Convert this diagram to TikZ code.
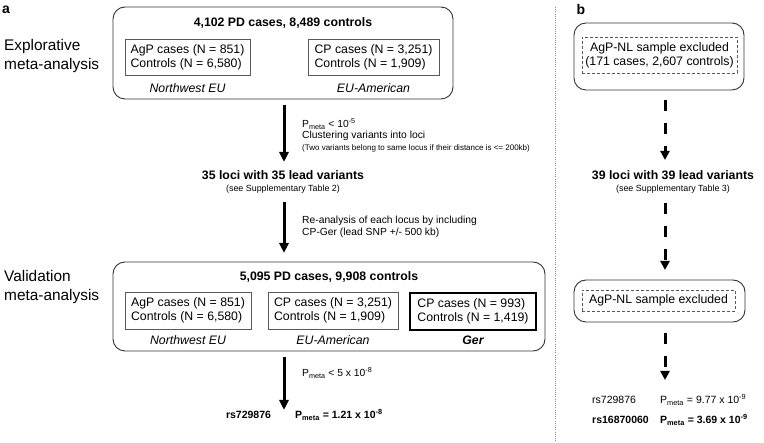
\documentclass[tikz,border=0pt]{standalone}
\usepackage{fontspec}
\setmainfont{Liberation Sans}
\usetikzlibrary{arrows.meta}
\newcommand{\myfs}[2]{\fontsize{#1}{#2}\selectfont}
\begin{document}
\begin{tikzpicture}[x=1pt,y=-1pt,
  txt/.style={inner sep=0pt, font={\myfs{12.3}{14.3}}},
  btxt/.style={inner sep=0pt, font={\myfs{12.3}{14.3}\bfseries}},
  lbl/.style={inner sep=0pt, anchor=west, font={\myfs{10.3}{12}}},
  small/.style={inner sep=0pt, anchor=west, font={\myfs{8.0}{9}}},
  supp/.style={inner sep=0pt, font={\myfs{8.9}{10}}},
  res/.style={inner sep=0pt, font={\myfs{10.5}{12}}},
  side/.style={inner sep=0pt, anchor=west, align=left, font={\myfs{15.4}{18.5}}},
  panel/.style={inner sep=0pt, font={\myfs{14}{16}\bfseries}},
  bigbox/.style={draw=black!80, line width=0.9pt, rounded corners=12pt},
  inbox/.style={draw=black!65, line width=0.8pt, inner sep=0pt, align=left, font={\myfs{12.3}{14.3}}},
  gerbox/.style={draw=black, line width=2.6pt, inner sep=0pt, align=left, font={\myfs{12.3}{14.3}}},
  dbox/.style={draw=black!65, line width=0.7pt, dash pattern=on 3pt off 2pt, inner sep=0pt, align=center, font={\myfs{12.3}{14.3}}},
  arr/.style={line width=3pt, -{Triangle[length=10pt,width=9pt]}},
  darr/.style={line width=3pt, dash pattern=on 11pt off 12pt, -{Triangle[length=9pt,width=9pt]}},
  sepline/.style={draw=black!45, line width=0.8pt, dash pattern=on 1pt off 1.2pt}
]
\fill[white] (0,0) rectangle (764,443);
\useasboundingbox (0,0) rectangle (764,443);

% panel labels
\node[panel] (pa) at (6,10) {a};
\node[panel] (pb) at (581,10) {b};

% side titles
\node[side] (expl) at (4,56) {Explorative\\meta-analysis};
\node[side] (vali) at (4,287) {Validation\\meta-analysis};

% ---------- panel a ----------
\node[bigbox, minimum width=340pt, minimum height=92pt] (box1) at (283,53) {};
\node[btxt] (t1) at (283,23) {4,102 PD cases, 8,489 controls};
\node[inbox, minimum width=125pt, minimum height=36pt] (agp1) at (187.5,57) {AgP cases (N = 851)\\Controls (N = 6,580)};
\node[inbox, minimum width=131pt, minimum height=36pt] (cp1) at (373.5,57) {CP cases (N = 3,251)\\Controls (N = 1,909)};
\node[txt, font={\myfs{12.3}{14.3}\itshape}] (nw1) at (187.5,88) {Northwest EU};
\node[txt, font={\myfs{12.3}{14.3}\itshape}] (eu1) at (373.5,88) {EU-American};

\coordinate (a1s) at (284,105);
\coordinate (a1e) at (284,162);
\draw[arr] (a1s) -- (a1e);
\node[lbl] (l1) at (302,124) {P\textsubscript{meta} < 10\textsuperscript{-5}};
\node[lbl] (l2) at (302,136) {Clustering variants into loci};
\node[small] (l3) at (302,148) {(Two variants belong to same locus if their distance is <= 200kb)};

\node[btxt] (loci1) at (283,175) {35 loci with 35 lead variants};
\node[supp] (sup1) at (283,189) {(see Supplementary Table 2)};

\coordinate (a2s) at (284,202);
\coordinate (a2e) at (284,253);
\draw[arr] (a2s) -- (a2e);
\node[lbl] (l4) at (302,221) {Re-analysis of each locus by including};
\node[lbl] (l5) at (302,233) {CP-Ger (lead SNP +/- 500 kb)};

\node[bigbox, minimum width=432pt, minimum height=89pt] (box2) at (329,306.5) {};
\node[btxt] (t2) at (329,277) {5,095 PD cases, 9,908 controls};
\node[inbox, minimum width=126pt, minimum height=37pt] (agp2) at (188,310.5) {AgP cases (N = 851)\\Controls (N = 6,580)};
\node[inbox, minimum width=130pt, minimum height=37pt] (cp2) at (333,310.5) {CP cases (N = 3,251)\\Controls (N = 1,909)};
\node[gerbox, minimum width=126pt, minimum height=37pt] (ger) at (473,311.5) {CP cases (N = 993)\\Controls (N = 1,419)};
\node[txt, font={\myfs{12.3}{14.3}\itshape}] (nw2) at (188,340) {Northwest EU};
\node[txt, font={\myfs{12.3}{14.3}\itshape}] (eu2) at (333,340) {EU-American};
\node[txt, font={\myfs{12.3}{14.3}\bfseries\itshape}] (ge2) at (473,340) {Ger};

\coordinate (a3s) at (284,357);
\coordinate (a3e) at (284,410);
\draw[arr] (a3s) -- (a3e);
\node[lbl] (l6) at (302,373) {P\textsubscript{meta} < 5 x 10\textsuperscript{-8}};

\node[res, font={\myfs{10.5}{12}\bfseries}] (rsa) at (248.5,415) {rs729876};
\node[res, anchor=west, font={\myfs{10.5}{12}\bfseries}] (pa1) at (295,415) {P\textsubscript{meta} = 1.21 x 10\textsuperscript{-8}};

% separator
\coordinate (sept) at (555,7);
\coordinate (sepb) at (555,443);
\draw[sepline] (sept) -- (sepb);

% ---------- panel b ----------
\node[bigbox, minimum width=170pt, minimum height=67pt] (bb1) at (659,56.5) {};
\node[dbox, minimum width=155pt, minimum height=36pt] (ex1) at (659.5,55) {AgP-NL sample excluded\\(171 cases, 2,607 controls)};

\coordinate (b1s) at (665,100);
\coordinate (b1e) at (665,160);
\draw[darr] (b1s) -- (b1e);

\node[btxt] (loci2) at (673,175) {39 loci with 39 lead variants};
\node[supp] (sup2) at (673,189) {(see Supplementary Table 3)};

\coordinate (b2s) at (665,203);
\coordinate (b2e) at (665,270);
\draw[darr] (b2s) -- (b2e);

\node[bigbox, minimum width=171pt, minimum height=42pt] (bb2) at (659.5,301) {};
\node[dbox, minimum width=153pt, minimum height=21pt] (ex2) at (658.5,300.5) {AgP-NL sample excluded};

\coordinate (b3s) at (665,333);
\coordinate (b3e) at (665,380);
\draw[darr] (b3s) -- (b3e);

\node[res, anchor=west] (rsb1) at (592,400) {rs729876};
\node[res, anchor=west] (pb1) at (660,400) {P\textsubscript{meta} = 9.77 x 10\textsuperscript{-9}};
\node[res, anchor=west, font={\myfs{10.5}{12}\bfseries}] (rsb2) at (592,420) {rs16870060};
\node[res, anchor=west, font={\myfs{10.5}{12}\bfseries}] (pb2) at (660,420) {P\textsubscript{meta} = 3.69 x 10\textsuperscript{-9}};
\end{tikzpicture}
\end{document}
